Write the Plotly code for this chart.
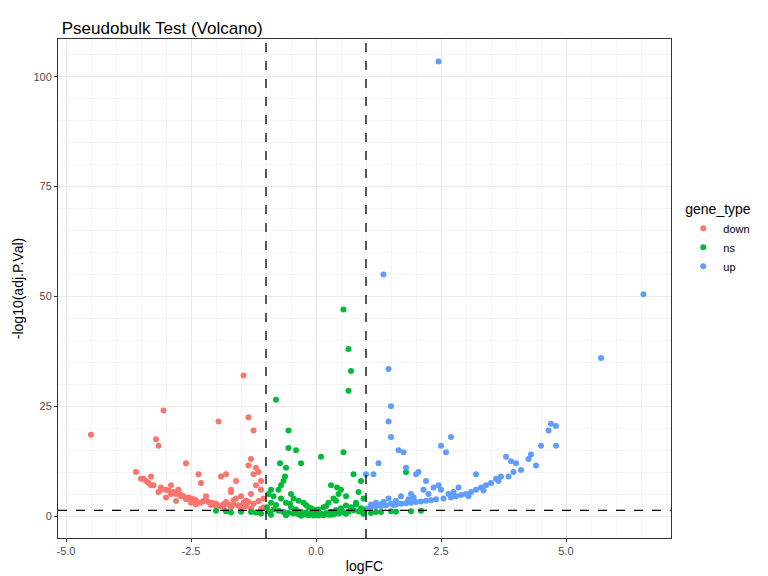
import plotly.graph_objects as go

# volcano points (logFC, -log10 adj.P.Val)
down_fc = [-4.5, -3.6, -3.45, -3.4, -3.35, -3.3, -3.25, -3.2, -3.15, -3.1, -3.05, -3.0, -2.95, -2.9, -2.85,
           -2.8, -2.75, -2.7, -2.65, -2.6, -2.55, -2.5, -2.45, -2.4, -2.35, -2.3, -2.25, -2.2, -2.15, -2.1,
           -2.05, -2.0, -1.95, -1.9, -1.85, -1.8, -1.75, -1.7, -1.65, -1.6, -1.55, -1.5, -1.45, -1.4, -1.35,
           -1.3, -1.25, -1.2, -1.15, -1.1, -1.05, -3.5, -3.3, -3.1, -2.9, -2.7, -2.5, -2.3, -2.1, -1.9, -1.7,
           -1.5, -1.3, -1.1, -3.15, -2.5, -1.95, -1.45, -1.35, -1.25, -2.6, -2.2, -1.8, -1.6, -1.3, -1.2,
           -1.1, -1.05, -1.4, -1.5, -1.7, -2.0, -2.4, -2.8, -3.0, -1.15, -1.25, -1.35, -1.55, -1.65, -1.85]
down_lp = [18.5, 10, 8.5, 8, 7.5, 9, 7, 17.5, 16, 6.5, 24, 6, 5.8, 7, 5.5,
           5, 6, 4.8, 4.5, 12, 4.2, 4, 3.8, 3.6, 9.5, 7.5, 3.4, 4.5, 3.2, 3,
           2.9, 2.8, 21.5, 9, 2.7, 9.5, 2.6, 6, 2.5, 8, 2.4, 2.3, 32, 2.2, 22.5,
           13, 19.5, 11, 10, 8, 2, 8.5, 7, 6, 5, 4.5, 3.5, 3, 2.5, 2.2, 2,
           1.8, 1.7, 1.6, 5.5, 3, 2.4, 3, 11.5, 9.5, 3.8, 3.6, 3.2, 4, 5, 7,
           6, 4, 3.5, 4.5, 5.5, 2.3, 2.6, 3.4, 4.2, 3.4, 2.8, 3.2, 2.4, 3.6, 2.1]

ns_fc = [0.55, 0.65, 0.7, 0.65, -0.8, -0.55, -0.55, -0.4, -0.3, 0.1, 0.55, 0.75, 0.9, -0.7, -0.9, 0.3,
         -0.95, -0.85, -0.75, -0.65, -0.6, -0.5, -0.45, -0.35, -0.25, -0.2, -0.15, -0.1, -0.05, 0.0,
         0.05, 0.15, 0.2, 0.25, 0.35, 0.4, 0.45, 0.5, 0.6, 0.8, 0.85, 0.95, -0.98, -0.9, -0.8, -0.7,
         -0.6, -0.5, -0.4, -0.3, -0.2, -0.1, 0.0, 0.1, 0.2, 0.3, 0.4, 0.5, 0.6, 0.7, 0.8, 0.9, 0.98,
         -1.5, -1.8, -2.0, -1.3, -1.1, 1.1, 1.3, 1.6, 1.9, 2.1, -0.95, -0.85, -0.75, -0.65, -0.55,
         -0.45, -0.35, -0.25, -0.15, -0.05, 0.05, 0.15, 0.25, 0.35, 0.45, 0.55, 0.65, 0.75, 0.85, 0.95,
         -0.9, -0.6, -0.3, 0.0, 0.3, 0.6, 0.9, -1.7, -1.2, 1.2, 1.5, 1.8, -0.72, -0.62, -0.52, 0.42, 0.82]
ns_lp = [47, 38, 33, 28.5, 26.5, 19.5, 15.5, 15, 12, 13.5, 14.5, 9.5, 8, 7, 6, 7,
         5, 4.5, 6, 8, 11, 5, 4, 3.5, 3, 2.5, 2, 1.8, 1.5, 1.2,
         1.5, 2, 2.2, 3, 4, 3.5, 5, 6, 4.5, 3, 5.5, 4, 2, 3, 2.5, 4,
         3, 2, 1.5, 1, 0.8, 0.5, 0.3, 0.5, 0.7, 1, 1.4, 1.8, 2.4, 2, 2.6, 1.8, 1.5,
         1.0, 1.1, 1.2, 0.9, 0.6, 0.7, 0.9, 1.0, 1.1, 1.2, 1.0, 1.5, 1.2, 0.9, 0.7,
         0.6, 0.4, 0.3, 0.2, 0.1, 0.1, 0.2, 0.3, 0.4, 0.6, 0.8, 1.0, 1.3, 1.1,
         0.5, 0.3, 0.2, 0.05, 0.2, 0.3, 0.5, 1.0, 0.8, 0.8, 0.9, 1.1, 10, 12, 9, 2.8, 6.5]

up_fc = [2.45, 1.35, 6.55, 5.7, 1.45, 1.5, 1.45, 1.5, 2.5, 2.7, 2.6, 4.7, 4.8, 4.65, 4.5, 4.8, 4.3,
         4.25, 3.8, 3.9, 4.0, 3.95, 3.7, 3.6, 3.5, 3.4, 3.3, 3.2, 3.1, 3.0, 2.9, 2.8, 2.7, 2.55, 2.4,
         2.3, 2.2, 2.1, 2.0, 1.9, 1.8, 1.7, 1.6, 1.55, 1.4, 1.3, 1.2, 1.1, 1.05, 1.8, 2.0, 2.2, 2.35,
         2.05, 1.75, 1.65, 1.25, 1.15, 3.2, 3.65, 3.85, 4.1, 4.4, 1.9, 2.15, 2.45, 2.75, 3.05, 3.35,
         1.35, 1.45, 1.6, 1.7, 1.85, 1.95, 2.25, 2.5, 2.65, 2.85, 1.2, 1.1, 1.3, 1.5, 1.0]
up_lp = [103.5, 55, 50.5, 36, 33.5, 25, 21.5, 18, 16, 18, 14.5, 21, 20.5, 19.5, 16, 16, 14,
         13, 13.5, 12.5, 12, 10, 9, 8.5, 7.5, 7, 6.5, 9.5, 5.5, 5, 4.8, 4.5, 4.2, 4, 3.8,
         3.6, 3.5, 3.3, 3.2, 3, 2.9, 2.8, 2.6, 2.5, 2.4, 2.3, 2.2, 2, 1.8, 11, 9.5, 8, 6.5,
         10, 14.5, 15, 12, 9.5, 6, 8, 9, 10.5, 11.5, 5, 6, 7, 5.5, 4.5, 5.8,
         3.2, 4, 3.5, 4.5, 3.8, 4.2, 5, 6, 5, 6.5, 3, 2.6, 2.7, 2.8, 9.5]

groups = [("down", down_fc, down_lp, "#F8766D"),
          ("ns", ns_fc, ns_lp, "#00BA38"),
          ("up", up_fc, up_lp, "#619CFF")]

fig = go.Figure()
for name, xs, ys, col in groups:
    fig.add_trace(go.Scatter(x=xs, y=ys, mode="markers", name=name,
                             marker=dict(color=col, size=6)))

for v in (-1, 1):
    fig.add_vline(x=v, line=dict(color="black", dash="dash", width=1.3))
fig.add_hline(y=1.3, line=dict(color="black", dash="dash", width=1.3))

axis = dict(showline=True, mirror=True, linecolor="#333333", linewidth=1, zeroline=False,
            gridcolor="#EBEBEB", ticks="outside", ticklen=3, tickcolor="#333333",
            tickfont=dict(size=11, color="#4D4D4D"),
            minor=dict(showgrid=True, gridcolor="#F5F5F5"))
fig.update_xaxes(axis, range=[-5.16, 7.1], tickvals=[-5, -2.5, 0, 2.5, 5],
                 ticktext=["-5.0", "-2.5", "0.0", "2.5", "5.0"],
                 title=dict(text="logFC", font=dict(size=14), standoff=4))
fig.update_yaxes(axis, range=[-5, 108.6], tickvals=[0, 25, 50, 75, 100],
                 title=dict(text="-log10(adj.P.Val)", font=dict(size=14), standoff=6))
fig.update_layout(
    width=768, height=576, template="none",
    font=dict(family="Liberation Sans, Arial, sans-serif", color="black"),
    plot_bgcolor="white", paper_bgcolor="white",
    margin=dict(l=50, r=105, t=31, b=46),
    title=dict(text="Pseudobulk Test (Volcano)", x=0.07, xanchor="left", y=0.975,
               font=dict(size=17)),
    legend=dict(title=dict(text="gene_type", font=dict(size=14)), x=1.02, y=0.6,
                yanchor="middle", font=dict(size=11)),
)
fig.write_html("out.html")
